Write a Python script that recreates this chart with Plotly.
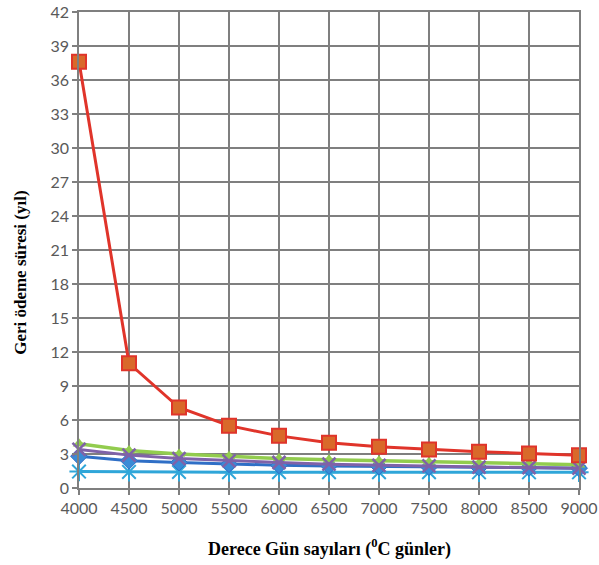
import plotly.graph_objects as go

# Degree-day values (°C days) on the x axis
degree_days = [4000, 4500, 5000, 5500, 6000, 6500, 7000, 7500, 8000, 8500, 9000]

# Payback period (years) for each insulation case
series_blue = [2.8, 2.4, 2.25, 2.1, 2.0, 1.95, 1.9, 1.85, 1.8, 1.78, 1.75]
series_red = [37.6, 11.0, 7.1, 5.5, 4.6, 4.0, 3.65, 3.4, 3.2, 3.05, 2.9]
series_green = [3.9, 3.3, 3.0, 2.8, 2.6, 2.5, 2.4, 2.3, 2.2, 2.1, 2.05]
series_purple = [3.4, 2.9, 2.6, 2.4, 2.25, 2.1, 2.0, 1.95, 1.85, 1.8, 1.75]
series_cyan = [1.45, 1.42, 1.41, 1.4, 1.4, 1.4, 1.39, 1.39, 1.38, 1.38, 1.38]

y_ticks = list(range(0, 43, 3))

fig = go.Figure()

fig.add_trace(go.Scatter(
    x=degree_days, y=series_cyan, mode="lines+markers",
    line=dict(color="#2FA6D9", width=3),
    marker=dict(symbol="asterisk-open", size=16, line=dict(color="#3FB6E0", width=2)),
    cliponaxis=False))
fig.add_trace(go.Scatter(
    x=degree_days, y=series_blue, mode="lines+markers",
    line=dict(color="#2F6FC6", width=3),
    marker=dict(symbol="diamond", size=13, color="#3A8BD6",
                line=dict(color="#2F6FC6", width=1)),
    cliponaxis=False))
fig.add_trace(go.Scatter(
    x=degree_days, y=series_green, mode="lines+markers",
    line=dict(color="#92CC4E", width=3.5),
    marker=dict(symbol="triangle-up", size=11, color="#92CC4E"),
    cliponaxis=False))
fig.add_trace(go.Scatter(
    x=degree_days, y=series_purple, mode="lines+markers",
    line=dict(color="#7F62A8", width=3),
    marker=dict(symbol="x-thin-open", size=13, line=dict(color="#7F62A8", width=2.5)),
    cliponaxis=False))
fig.add_trace(go.Scatter(
    x=degree_days, y=series_red, mode="lines+markers",
    line=dict(color="#E0342A", width=3),
    marker=dict(symbol="square", size=14, color="#D9692A",
                line=dict(color="#E0342A", width=2)),
    cliponaxis=False))

fig.update_layout(
    width=599, height=565,
    margin=dict(l=79, r=20, t=12, b=77),
    paper_bgcolor="white", plot_bgcolor="white",
    showlegend=False,
    font=dict(family="Lato, Liberation Sans, sans-serif", size=16, color="#595959"),
)

axis_style = dict(
    showgrid=True, gridcolor="#7F7F7F", gridwidth=1.5,
    zeroline=False, showline=True, linecolor="#7F7F7F", linewidth=1.5,
    ticks="outside", ticklen=5, tickcolor="#7F7F7F", tickwidth=1.5,
    mirror=True, automargin=False,
)
fig.update_xaxes(range=[4000, 9000], tickvals=degree_days, **axis_style)
fig.update_yaxes(range=[0, 42], tickvals=y_ticks, **axis_style)

fig.add_annotation(
    text="<b>Derece Gün sayıları (<sup>0</sup>C günler)</b>",
    xref="paper", yref="paper", x=0.5, y=-0.125,
    xanchor="center", yanchor="middle", showarrow=False,
    font=dict(family="Liberation Serif, Times New Roman, serif", size=18, color="black"))
fig.add_annotation(
    text="<b>Geri ödeme süresi (yıl)</b>",
    xref="paper", yref="paper", x=-0.116, y=0.452,
    xanchor="center", yanchor="middle", textangle=-90,
    showarrow=False,
    font=dict(family="Liberation Serif, Times New Roman, serif", size=17, color="black"))

fig.write_html("out.html")
